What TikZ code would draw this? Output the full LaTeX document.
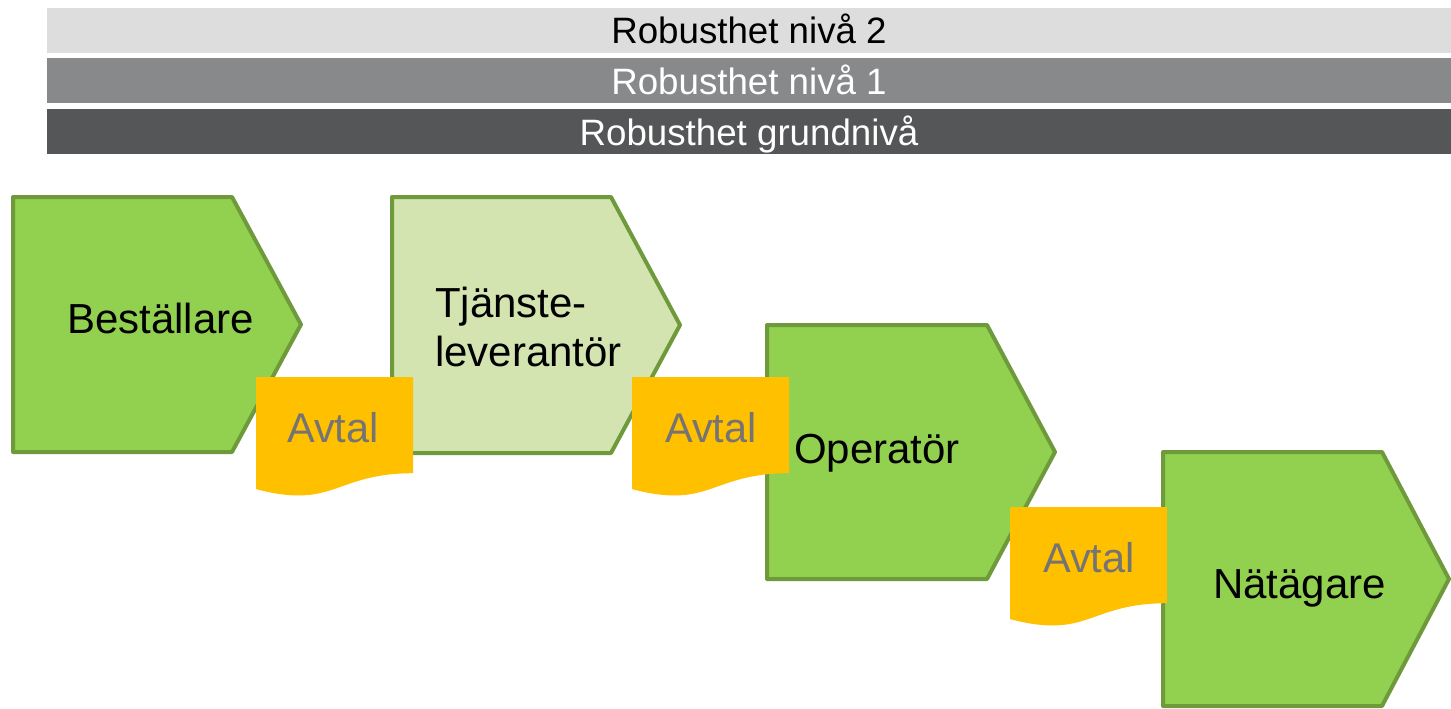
\documentclass[tikz,border=0pt]{standalone}
\usepackage{fontspec}
\setmainfont{Liberation Sans}
\definecolor{barA}{HTML}{DCDDDC}
\definecolor{barB}{HTML}{88898B}
\definecolor{barC}{HTML}{555658}
\definecolor{grn}{HTML}{92D050}
\definecolor{grnlt}{HTML}{D3E4B0}
\definecolor{grnline}{HTML}{6F9A3C}
\definecolor{avtal}{HTML}{FFC000}
\definecolor{avtaltxt}{HTML}{767373}
\tikzset{
  bartext/.style={anchor=base, inner sep=0pt, font=\fontsize{36.7}{44}\selectfont},
  actor/.style={draw=grnline, line width=4pt, line join=round},
  actortext/.style={anchor=base west, inner sep=0pt, font=\fontsize{42}{50}\selectfont, text=black},
  avtaltext/.style={anchor=base west, inner sep=0pt, font=\fontsize{41.5}{50}\selectfont, text=avtaltxt},
}
\newcommand{\pentaShape}[6]{% fill, x0, y0, xr, xtip, y1
  \filldraw[actor, fill=#1] (#2,#3) -- (#4,#3) -- (#5,{(#3+#6)/2}) -- (#4,#6) -- (#2,#6) -- cycle;
}
\newcommand{\docShape}[2]{% x0,y0, w=157, h=120
  \fill[avtal] (#1,#2) -- ({#1+157},#2) -- ({#1+157},{#2+96.2})
    .. controls ({#1+78.5},{#2+96.2}) and ({#1+78.5},{#2+132.9}) .. (#1,{#2+112.1}) -- cycle;
}
\begin{document}
\begin{tikzpicture}[x=1pt,y=-1pt]
\useasboundingbox[fill=white] (0,0) rectangle (1451,709);
% bars
\fill[barA] (47,8) rectangle (1451,53);
\fill[barB] (47,58) rectangle (1451,103);
\fill[barC] (47,109) rectangle (1451,154);
\node[bartext, text=black] (r2) at (749,44) {Robusthet nivå 2};
\node[bartext, text=white] (r1) at (749,95) {Robusthet nivå 1};
\node[bartext, text=white] (r0) at (749,145) {Robusthet grundnivå};
% actors
\pentaShape{grn}{13}{197}{232}{301}{452}
\pentaShape{grnlt}{392}{197}{611}{680}{453}
\pentaShape{grn}{767}{325}{987}{1055}{579}
\pentaShape{grn}{1163}{452}{1382}{1449}{706}
\node[actortext] (best) at (67,333) {Beställare};
\node[actortext, align=left, anchor=base west] (tj1) at (435,317) {Tjänste-};
\node[actortext] (tj2) at (435,366) {leverantör};
\node[actortext] (oper) at (794,463) {Operatör};
\node[actortext] (nat) at (1213,598) {Nätägare};
% agreements
\docShape{256}{377}
\docShape{632}{377}
\docShape{1010}{507}
\node[avtaltext] (av1) at (287,442) {Avtal};
\node[avtaltext] (av2) at (665,442) {Avtal};
\node[avtaltext] (av3) at (1043,572) {Avtal};
\end{tikzpicture}
\end{document}
